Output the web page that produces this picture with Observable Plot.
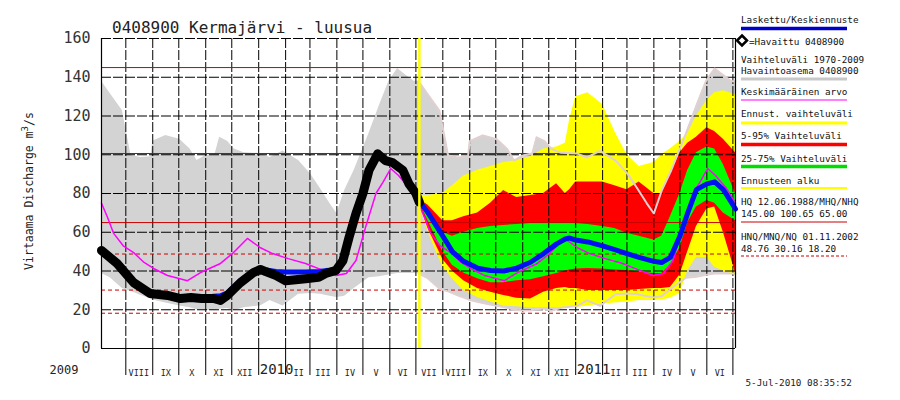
<!DOCTYPE html>
<html><head><meta charset="utf-8">
<script src="https://cdn.jsdelivr.net/npm/d3@7"></script>
<script src="https://cdn.jsdelivr.net/npm/@observablehq/plot@0.6"></script>
<style>
body{margin:0;background:#fff;}
#chart{position:relative;width:900px;height:400px;}
</style></head><body><div id="chart"></div>
<script>
// ---------- DATA ----------
const titleText = "0408900 Kermajärvi - luusua";
const xStart = "2009-07-04", xEnd = "2011-07-04";
const forecastStart = "2010-07-05";
const yTicks = [0, 20, 40, 60, 80, 100, 120, 140, 160];
const hqLevels = [145.00, 100.65, 65.00];
const nqLevels = [48.76, 30.16, 18.20];
const monthLabels = ["VIII","IX","X","XI","XII","","II","III","IV","V","VI","VII","VIII","IX","X","XI","XII","","II","III","IV","V","VI"];
const yearLabels = [{date: "2010-01-01", text: "2010"}, {date: "2011-01-01", text: "2011"}];
const timestamp = "5-Jul-2010 08:35:52";

// observed (Havaittu)
const obsDates = ["2009-07-04","2009-07-22","2009-08-10","2009-08-29","2009-09-18","2009-10-03","2009-10-15","2009-10-27","2009-11-10","2009-11-18","2009-11-26","2009-12-11","2009-12-26","2010-01-03","2010-01-09","2010-01-21","2010-02-01","2010-02-24","2010-03-11","2010-03-19","2010-03-31","2010-04-08","2010-04-15","2010-04-23","2010-05-01","2010-05-08","2010-05-18","2010-05-27","2010-06-04","2010-06-16","2010-06-23","2010-07-01","2010-07-05"];
const obsValues = [50.6,43.9,34,28.4,27.4,25.8,26.3,25.8,25.8,24.8,27.4,34,39.2,40.8,39.7,37.7,35,36,36.7,38.7,40.3,45.4,57.3,69.7,80,92,100.5,97,96,92,85,80,75.5];

// computed (Laskettu) before forecast
const calcDates = ["2009-07-04","2009-07-22","2009-08-10","2009-08-29","2009-09-18","2009-10-03","2009-10-15","2009-10-27","2009-11-10","2009-11-18","2009-11-26","2009-12-11","2009-12-26","2010-01-03","2010-01-09","2010-01-21","2010-02-01","2010-02-24","2010-03-11","2010-03-19","2010-03-31","2010-04-08","2010-04-15","2010-04-23","2010-05-01","2010-05-08","2010-05-18","2010-05-27","2010-06-04","2010-06-16","2010-06-23","2010-07-01"];
const calcValues = [50.6,43.9,34,28.4,27.4,25.8,26.3,26,27,27.2,28.8,35,40,41,40.5,39.8,39.5,39.5,39.8,40.2,40.5,45.4,57.3,69.7,80,92,99.6,97,96,92,85,80];

// forecast (Keskiennuste + ranges)
const fcDates = ["2010-07-05","2010-07-15","2010-08-01","2010-08-12","2010-08-25","2010-09-10","2010-09-25","2010-10-10","2010-10-25","2010-11-10","2010-11-25","2010-12-10","2010-12-20","2010-12-25","2011-01-01","2011-01-15","2011-02-01","2011-02-15","2011-03-01","2011-03-15","2011-04-01","2011-04-10","2011-04-20","2011-05-01","2011-05-10","2011-05-20","2011-06-01","2011-06-10","2011-06-20","2011-07-04"];
const medianValues = [76,70,58,50,45,41.5,40.3,40,41.5,44.5,49,54,56.5,57,56,55,53,51,49,47,45,44.4,47,58,70,82,85,86,82,72];
const yellowLo = [75,60,42,36,30,26.3,24,22,21.5,21,21,21,21,21,21,22,23,23.5,24,24.8,24.8,25,26,28.4,40,47,47,42,40,38];
const yellowHi = [79,79,80,84,89,92,94,96,97,99,103,104,106,118,130,132,126,112,100,94,96,100,103,107,111,120,128,132,133,131];
const redLo = [75,62,46,40,35,31,29,27.4,26,25.5,29,31,31.5,31,31,30,30,30,30,30.5,31,31,31.5,38,50,63,72,73,60,39];
const redHi = [77,74,66,66,68,70,75,81.5,78,79,80,85,80,82,86,86,86,84,82,86,80,80,90,101,106,109,114,112,108,101];
const greenLo = [75.5,66,50,43,39,36,34,34,35,35.5,37,38.7,40,40.5,41,41.3,41,40.5,40.3,39.5,38.7,38.7,43,52,65,73,76.4,75,70,66];
const greenHi = [76.5,71,60,58,60,62,63,63.5,64,64.5,65,65,65,65,64.5,64,63,62,59.5,58,56,58,68,80,92,101,104,103,95,80];

// historical range 1970-2009 (by day of year)
const climMonthDays = ["07-04","07-14","07-28","08-03","08-07","08-18","08-30","09-01","09-16","10-02","10-14","10-22","11-01","11-12","11-17","11-26","12-04","12-15","01-03","01-14","01-29","02-16","03-02","03-13","03-24","04-01","04-10","04-21","05-08","05-20","05-31","06-10","06-17","06-29","07-04"];
const climMax = [138,131.6,122.8,109,99.6,98.6,99,107,110,108,103,97,99.6,100.6,109,107,103,101,100.6,98.6,102,97,90,82.6,74.8,69.7,81.5,92,111,125.4,138,144.5,142,138,138];
const climMin = [38.7,36.5,31,30,29.5,27.5,25.5,25,23.5,22,21,20,19.6,19.8,20.3,20.6,19.5,21,22,24.8,22,28,28.4,28,27,26.3,27,31,36.5,37,38,38.7,38.7,38.7,38.7];

// mean (Keskimääräinen arvo, by day of year)
const meanMonthDays = ["07-04","07-11","07-18","07-29","08-10","08-22","09-02","09-18","10-11","10-26","11-18","12-03","12-19","01-03","01-17","02-04","02-24","03-16","03-31","04-12","04-23","05-04","05-16","05-24","06-02","06-11","06-23","07-04"];
const meanValues = [75,67.6,59.4,53,49.5,44.4,41.3,37.7,35,39.2,43.9,49.5,56.8,52,49,46.4,43.9,40.3,37.7,38.7,45.4,62.5,80,85.7,92.9,89.3,83,75];

// legend
const legendTexts = [
  ["Laskettu/Keskiennuste", 23], ["=Havaittu 0408900", 45],
  ["Vaihteluväli 1970-2009", 63], ["Havaintoasema 0408900", 74],
  ["Keskimääräinen arvo", 95], ["Ennust. vaihteluväli", 117],
  ["5-95% Vaihteluväli", 139], ["25-75% Vaihteluväli", 162],
  ["Ennusteen alku", 184], ["HQ 12.06.1988/MHQ/NHQ", 205],
  ["145.00 100.65 65.00", 217], ["HNQ/MNQ/NQ 01.11.2002", 240],
  ["48.76 30.16 18.20", 252]
];

// ---------- BUILD ----------
const D = s => new Date(s);
function expandClim(mds) {
  const out = [];
  [2009, 2010].forEach((base, k) => {
    mds.forEach((md, i) => {
      if (k === 1 && i === 0) return;
      const m = +md.slice(0, 2);
      const y = (m >= 7 && i < mds.length - 1) ? base : base + 1;
      out.push({date: D(`${y}-${md}`), i});
    });
  });
  return out;
}
const clim = expandClim(climMonthDays).map(d => ({date: d.date, lo: climMin[d.i], hi: climMax[d.i]}));
const mean = expandClim(meanMonthDays).map(d => ({date: d.date, v: meanValues[d.i]}));
const climFc = clim.filter(d => d.date >= D("2010-07-04"));
const obs = obsDates.map((d, i) => ({date: D(d), v: obsValues[i]}));
const fc = fcDates.map((d, i) => ({date: D(d), med: medianValues[i], yl: yellowLo[i], yh: yellowHi[i], rl: redLo[i], rh: redHi[i], gl: greenLo[i], gh: greenHi[i]}));
const calc = calcDates.map((d, i) => ({date: D(d), v: calcValues[i]})).concat(fc.map(d => ({date: d.date, v: d.med})));

const monthTicks = d3.utcMonth.range(D("2009-08-01"), D("2011-07-02"));
const monthMid = monthTicks.slice(0, monthLabels.length).map((d, i) => ({date: d3.utcDay.offset(d, 15), text: monthLabels[i]}));
const mono = "DejaVu Sans Mono, monospace";

const chart = Plot.plot({
  width: 900, height: 400,
  marginLeft: 101, marginRight: 165, marginTop: 38, marginBottom: 52,
  x: {type: "utc", domain: [D(xStart), D(xEnd)]},
  y: {domain: [0, 160]},
  style: {fontFamily: mono, background: "white", overflow: "visible"},
  marks: [
    Plot.areaY(clim, {x: "date", y1: "lo", y2: "hi", fill: "#d3d3d3"}),
    Plot.areaY(fc, {x: "date", y1: "yl", y2: "yh", fill: "#ffff00"}),
    Plot.areaY(fc, {x: "date", y1: "rl", y2: "rh", fill: "#ff0000"}),
    Plot.areaY(fc, {x: "date", y1: "gl", y2: "gh", fill: "#00ff00"}),
    Plot.ruleY(yTicks, {stroke: "black", strokeDasharray: "10,2", strokeWidth: 1}),
    Plot.ruleX(monthTicks, {stroke: "black", strokeDasharray: "10,2", strokeWidth: 1}),
    Plot.ruleY(hqLevels, {stroke: "#c80000", strokeWidth: 1}),
    Plot.ruleY(nqLevels, {stroke: "#c80000", strokeWidth: 1, strokeDasharray: "4,3"}),
    Plot.line(climFc, {x: "date", y: "hi", stroke: "#e2d0d0", strokeWidth: 2}),
    Plot.line(climFc, {x: "date", y: "lo", stroke: "#e2d0d0", strokeWidth: 2}),
    Plot.line(mean, {x: "date", y: "v", stroke: "#ff00ff", strokeWidth: 1.5}),
    Plot.line(calc, {x: "date", y: "v", stroke: "#0010f0", strokeWidth: 5, strokeLinejoin: "round"}),
    Plot.line(obs, {x: "date", y: "v", stroke: "black", strokeWidth: 9, strokeLinejoin: "round"}),
    Plot.ruleX([D(forecastStart)], {stroke: "#ffff00", strokeWidth: 2.5}),
    Plot.ruleY([0], {stroke: "black", strokeWidth: 1.2}),
    Plot.ruleX([D(xStart), D(xEnd)], {stroke: "black", strokeWidth: 1.2}),
    Plot.axisY({ticks: yTicks, tickSize: 0, tickPadding: 11, fontSize: 15, label: null, fill: "#333"}),
    Plot.axisX({ticks: monthTicks, tickSize: 27, tickFormat: () => "", label: null}),
    Plot.text(monthMid, {x: "date", text: "text", frameAnchor: "bottom", dy: 27, lineAnchor: "bottom", fontSize: 8.5, fill: "#222"}),
    Plot.text(yearLabels, {x: d => D(d.date), text: "text", frameAnchor: "bottom", dx: 1, dy: 25, lineAnchor: "bottom", textAnchor: "start", fontSize: 14, fill: "#222"}),
    Plot.text(["2009"], {frameAnchor: "bottom-left", dx: -23, dy: 25, lineAnchor: "bottom", textAnchor: "end", fontSize: 12, fill: "#222"}),
    Plot.text([timestamp], {frameAnchor: "bottom-right", dx: 10, dy: 37, lineAnchor: "bottom", textAnchor: "start", fontSize: 9.3, fill: "#222"})
  ]
});
document.getElementById("chart").appendChild(chart);

// ---------- TITLE, AXIS TITLE, LEGEND ----------
const svg = d3.select(chart);
svg.append("text").attr("x", 112).attr("y", 33).attr("text-anchor", "start").attr("font-family", mono).attr("font-size", 16).attr("fill", "#222").text(titleText);
const yl = svg.append("text").attr("transform", "translate(33,191) rotate(-90)").attr("text-anchor", "middle")
  .attr("font-family", mono).attr("font-size", 11.5).attr("fill", "#222");
yl.append("tspan").text("Virtaama Discharge m");
yl.append("tspan").attr("dy", -5).attr("font-size", 9).text("3");
yl.append("tspan").attr("dy", 5).text("/s");

const lg = svg.append("g").attr("font-family", mono).attr("font-size", 9.3).attr("fill", "#111").attr("text-anchor", "start");
legendTexts.forEach(([t, y], i) => {
  lg.append("text").attr("x", i === 1 ? 749 : 741).attr("y", y).attr("text-anchor", "start").text(t);
});
const legendLines = [
  [28.5, "#0000cc", 3.5, null], [79, "#c8c8c8", 3, null], [100, "#ff00ff", 1, null],
  [123, "#ffff00", 3, null], [144.5, "#ff0000", 3.5, null], [166.5, "#00dd00", 3.5, null],
  [188, "#ffff00", 2, null], [222, "#cc0000", 1, null], [256, "#cc0000", 1, "3,2"]
];
legendLines.forEach(([y, c, w, dash]) => {
  const l = svg.append("line").attr("x1", 741).attr("x2", 847).attr("y1", y).attr("y2", y).attr("stroke", c).attr("stroke-width", w);
  if (dash) l.attr("stroke-dasharray", dash);
});
svg.append("path").attr("d", "M742,35.5 L747,40.5 L742,45.5 L737,40.5 Z").attr("fill", "white").attr("stroke", "black").attr("stroke-width", 2.5);
</script>
</body></html>
